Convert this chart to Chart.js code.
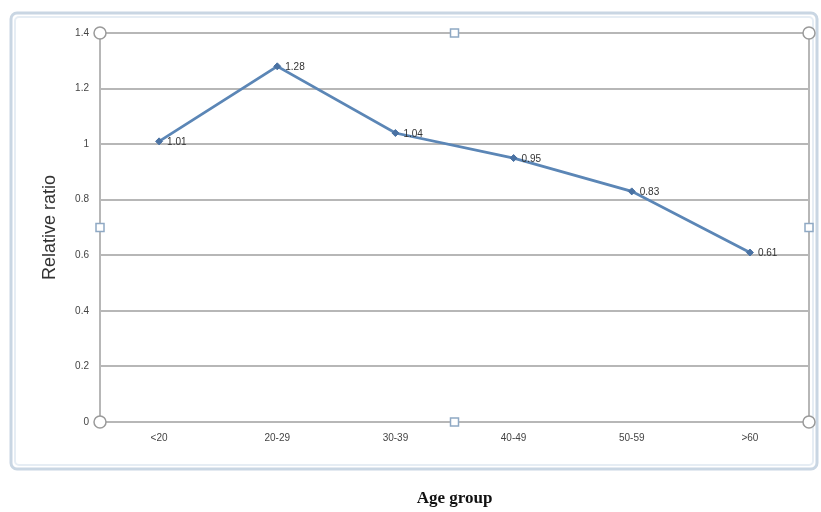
<!DOCTYPE html>
<html>
<head>
<meta charset="utf-8">
<script src="https://cdn.jsdelivr.net/npm/chart.js@4.4.1/dist/chart.umd.min.js"></script>
<style>
  html, body { margin: 0; padding: 0; background: #fff; }
  #wrap { width: 821px; height: 512px; }
</style>
</head>
<body>
<div id="wrap"><canvas id="ratioChart" width="821" height="512"></canvas></div>
<script>
// values
const ageGroups = ["<20", "20-29", "30-39", "40-49", "50-59", ">60"];
const relRatio = [1.01, 1.28, 1.04, 0.95, 0.83, 0.61];
const yTicks = [0, 0.2, 0.4, 0.6, 0.8, 1, 1.2, 1.4];

// frame, plot border and the little selection handles excel leaves on screen
const framePlugin = {
  id: "frame",
  beforeDraw(chart) {
    const ctx = chart.ctx;
    ctx.save();
    ctx.fillStyle = "#fff";
    ctx.fillRect(0, 0, chart.width, chart.height);
    ctx.strokeStyle = "#c9d6e3";
    ctx.lineWidth = 3;
    ctx.beginPath();
    ctx.roundRect(11, 13, 806, 456, 6);
    ctx.stroke();
    ctx.strokeStyle = "#e6edf4";
    ctx.lineWidth = 2;
    ctx.beginPath();
    ctx.roundRect(15, 17, 798, 448, 4);
    ctx.stroke();
    ctx.restore();
  },
  afterDraw(chart) {
    const ctx = chart.ctx;
    const a = chart.chartArea;
    ctx.save();
    ctx.strokeStyle = "#b7b7b7";
    ctx.lineWidth = 2;
    ctx.beginPath();
    ctx.moveTo(a.right, a.top);
    ctx.lineTo(a.right, a.bottom);
    ctx.stroke();

    const midX = (a.left + a.right) / 2;
    const midY = (a.top + a.bottom) / 2;
    ctx.lineWidth = 1.5;
    ctx.fillStyle = "#fff";
    ctx.strokeStyle = "#9a9a9a";
    [[a.left, a.top], [a.right, a.top], [a.left, a.bottom], [a.right, a.bottom]].forEach(p => {
      ctx.beginPath();
      ctx.arc(p[0], p[1], 6, 0, Math.PI * 2);
      ctx.fill();
      ctx.stroke();
    });
    ctx.strokeStyle = "#8fa9c4";
    [[midX, a.top], [a.left, midY], [a.right, midY], [midX, a.bottom]].forEach(p => {
      ctx.fillRect(p[0] - 4, p[1] - 4, 8, 8);
      ctx.strokeRect(p[0] - 4, p[1] - 4, 8, 8);
    });

    // value labels next to each point
    const meta = chart.getDatasetMeta(0);
    ctx.fillStyle = "#333";
    ctx.font = "10px 'Liberation Sans'";
    ctx.textAlign = "left";
    ctx.textBaseline = "middle";
    meta.data.forEach((pt, i) => {
      ctx.fillText(relRatio[i].toFixed(2), pt.x + 8, pt.y + 1);
    });
    ctx.restore();
  }
};

const ctx = document.getElementById("ratioChart").getContext("2d");
new Chart(ctx, {
  type: "line",
  data: {
    labels: ageGroups,
    datasets: [{
      data: relRatio,
      borderColor: "#5b86b6",
      backgroundColor: "#4a72a3",
      borderWidth: 2.8,
      pointStyle: "rectRot",
      pointRadius: 3.5,
      pointBorderWidth: 1,
      pointBorderColor: "#4a72a3",
      tension: 0
    }]
  },
  options: {
    responsive: false,
    animation: false,
    layout: { padding: { top: 33, right: 12, left: 0, bottom: 0 } },
    plugins: {
      legend: { display: false },
      tooltip: { enabled: false }
    },
    scales: {
      x: {
        offset: true,
        grid: { display: false, drawTicks: false },
        border: { display: false },
        ticks: { color: "#444", font: { size: 10, family: "'Liberation Sans'" }, padding: 10, maxRotation: 0 },
        title: {
          display: true,
          text: "Age group",
          color: "#111",
          font: { size: 17, weight: "bold", family: "'Liberation Serif'" },
          padding: { bottom: 3 }
        },
        afterFit: s => { s.height = 90; }
      },
      y: {
        min: 0,
        max: 1.4,
        afterBuildTicks: s => { s.ticks = yTicks.map(v => ({ value: v })); },
        grid: { color: "#b7b7b7", lineWidth: 2, drawTicks: false },
        border: { color: "#b7b7b7", width: 2 },
        ticks: {
          color: "#444",
          font: { size: 10, family: "'Liberation Sans'" },
          padding: 11,
          callback: v => String(Math.round(v * 10) / 10)
        },
        title: {
          display: true,
          text: "Relative ratio",
          color: "#333",
          font: { size: 18, family: "'Liberation Sans'" },
          padding: { top: 39 }
        },
        afterFit: s => { s.width = 100; }
      }
    }
  },
  plugins: [framePlugin]
});
</script>
</body>
</html>
